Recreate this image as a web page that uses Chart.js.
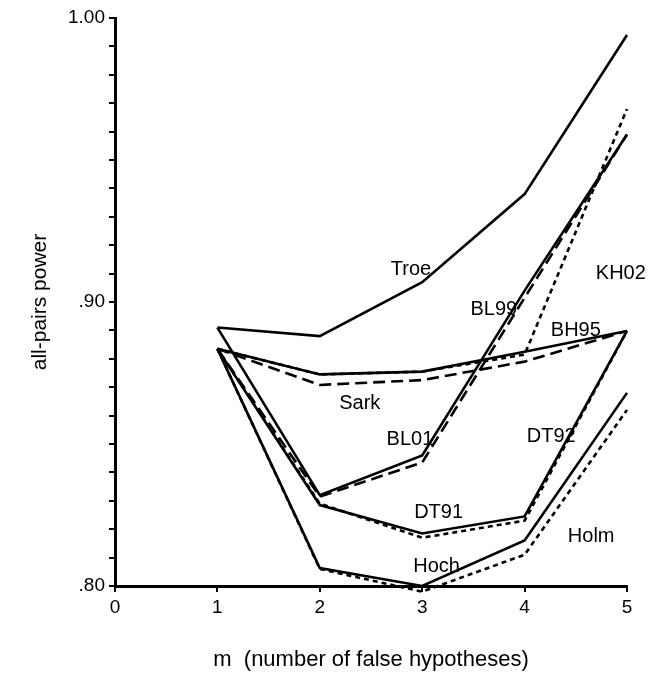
<!DOCTYPE html>
<html>
<head>
<meta charset="utf-8">
<script src="https://cdn.jsdelivr.net/npm/chart.js@4.4.1/dist/chart.umd.min.js"></script>
<style>
  html, body { margin: 0; padding: 0; background: #fff; }
  #caixa { width: 657px; height: 692px; }
</style>
</head>
<body>
<div id="caixa"><canvas id="graficoPoder"></canvas></div>
<script>
// m = numero de hipoteses falsas
const m = [1, 2, 3, 4, 5];

// poder "all-pairs" de cada procedimento
const troe = [0.891, 0.888, 0.907, 0.938, 0.994];
const bl99 = [0.891, 0.832, 0.846, 0.904, 0.959];
const bl01 = [0.8835, 0.8315, 0.8435, 0.9015, 0.959];
const kh02 = [0.8835, 0.8745, 0.8755, 0.8815, 0.968];
const bh95 = [0.8835, 0.8745, 0.8755, 0.8825, 0.8898];
const sark = [0.8835, 0.8708, 0.8725, 0.879, 0.8898];
const dt92 = [0.8835, 0.829, 0.817, 0.823, 0.8898];
const dt91 = [0.8835, 0.8285, 0.8185, 0.8245, 0.8898];
const hoch = [0.8835, 0.8063, 0.800, 0.816, 0.868];
const holm = [0.8835, 0.806, 0.798, 0.811, 0.862];

// nomes escritos junto das curvas e onde ficam (em unidades dos eixos)
const rotulos = ['Troe', 'BL99', 'KH02', 'BH95', 'Sark', 'BL01', 'DT92', 'DT91', 'Holm', 'Hoch'];
const rotuloX = [2.89, 3.70, 4.94, 4.50, 2.39, 2.88, 4.26, 3.16, 4.65, 3.14];
const rotuloY = [0.9113, 0.8972, 0.9099, 0.8901, 0.8644, 0.8515, 0.8525, 0.826, 0.8173, 0.8067];

// marcas do eixo y que levam texto
const yMarcas = [0.80, 0.90, 1.00];
const yTextos = ['.80', '.90', '1.00'];

const cheio = [];
const tracejado = [12, 6];
const pontilhado = [5, 4];

function serie(valores, traco) {
  return {
    data: m.map((x, i) => ({ x: x, y: valores[i] })),
    borderColor: '#000',
    borderWidth: 2.6,
    borderDash: traco,
    pointRadius: 0,
    tension: 0,
    fill: false,
    clip: false
  };
}

const nomesCurvas = {
  id: 'nomesCurvas',
  afterDatasetsDraw(chart) {
    const c = chart.ctx;
    const sx = chart.scales.x, sy = chart.scales.y;
    c.save();
    c.fillStyle = '#000';
    c.font = '20px "Liberation Sans", Arial, sans-serif';
    c.textAlign = 'center';
    c.textBaseline = 'middle';
    rotulos.forEach((t, i) => {
      c.fillText(t, sx.getPixelForValue(rotuloX[i]), sy.getPixelForValue(rotuloY[i]));
    });
    c.restore();
  }
};

const fonte = '"Liberation Sans", Arial, sans-serif';

const ctx = document.getElementById('graficoPoder').getContext('2d');
const graficoPoder = new Chart(ctx, {
  type: 'line',
  data: {
    datasets: [
      serie(troe, cheio),
      serie(bl99, cheio),
      serie(bl01, tracejado),
      serie(kh02, pontilhado),
      serie(bh95, cheio),
      serie(sark, tracejado),
      serie(dt92, pontilhado),
      serie(dt91, cheio),
      serie(hoch, cheio),
      serie(holm, pontilhado)
    ]
  },
  options: {
    responsive: true,
    maintainAspectRatio: false,
    animation: false,
    layout: { padding: { top: 18, right: 30, left: 0, bottom: 0 } },
    plugins: {
      legend: { display: false },
      tooltip: { enabled: false }
    },
    scales: {
      x: {
        type: 'linear',
        min: 0,
        max: 5,
        afterFit(scale) { scale.height = 106; },
        border: { display: true, color: '#000', width: 3 },
        grid: { drawOnChartArea: false, drawTicks: true, tickLength: 6, color: '#000', lineWidth: 2 },
        ticks: {
          stepSize: 1,
          color: '#000',
          padding: 4,
          font: { family: fonte, size: 19 }
        },
        title: {
          display: true,
          text: 'm  (number of false hypotheses)',
          color: '#000',
          padding: { top: 0, bottom: 19 },
          font: { family: fonte, size: 22 }
        }
      },
      y: {
        min: 0.80,
        max: 1.00,
        afterFit(scale) { scale.width = 115; },
        border: { display: true, color: '#000', width: 3 },
        grid: { drawOnChartArea: false, drawTicks: true, tickLength: 6, color: '#000', lineWidth: 2 },
        ticks: {
          stepSize: 0.01,
          autoSkip: false,
          color: '#000',
          padding: 4,
          font: { family: fonte, size: 19 },
          callback(v) {
            const k = yMarcas.findIndex(a => Math.abs(a - v) < 1e-6);
            return k >= 0 ? yTextos[k] : '';
          }
        },
        title: {
          display: true,
          text: 'all-pairs power',
          color: '#000',
          padding: { top: 28, bottom: 0 },
          font: { family: fonte, size: 21 }
        }
      }
    }
  },
  plugins: [nomesCurvas]
});
</script>
</body>
</html>
